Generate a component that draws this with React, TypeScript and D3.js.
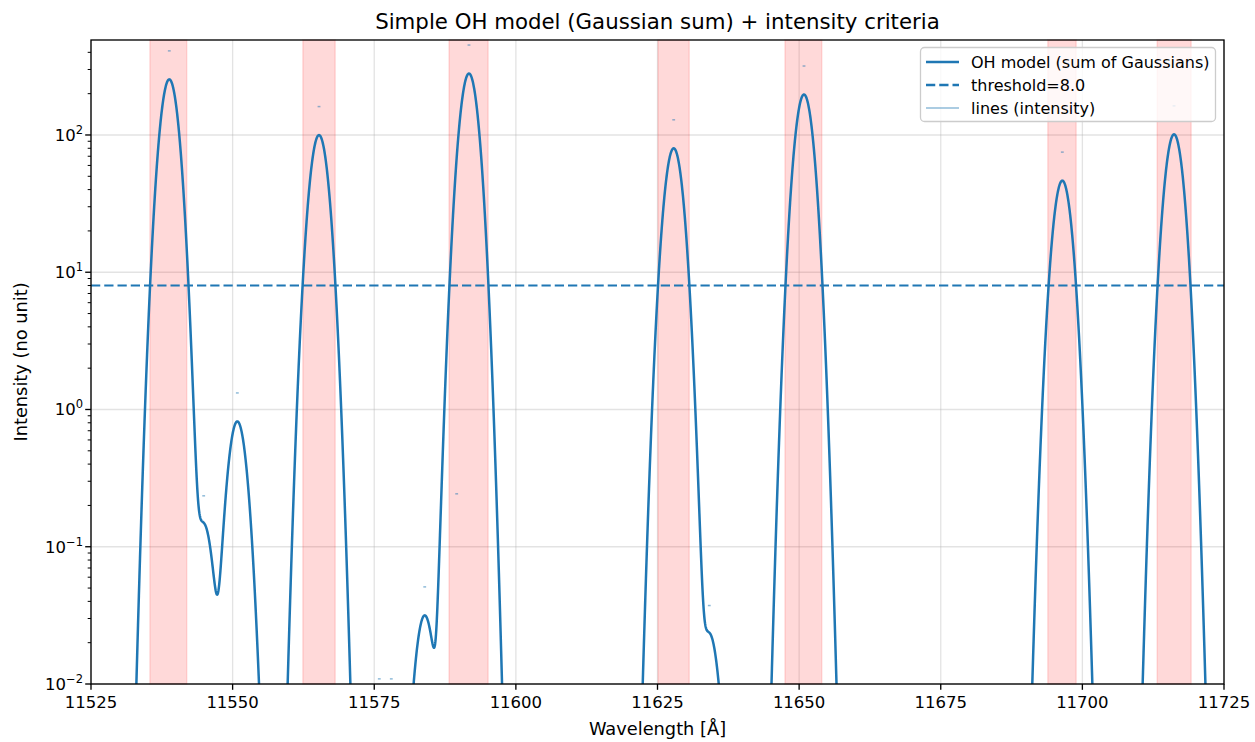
import React from 'react'
import { scaleLinear, scaleLog, line, range } from 'd3'

// emission lines: wavelength [Å] and intensity
const lineWavelengths = [
  11538.82, 11544.89, 11550.83, 11565.25, 11575.89, 11578.01, 11583.91, 11589.55, 11591.72, 11627.86, 11634.14,
  11650.86, 11696.46, 11716.18
]
const lineIntensities = [410, 0.235, 1.32, 161, 0.0109, 0.0109, 0.051, 0.243, 452, 129, 0.0373, 318, 75, 163]

// model parameters (peak height relative to line intensity, gaussian sigma in Å)
const MODEL_SCALE = 0.62
const MODEL_SIGMA = 1.29
const THRESHOLD = 8.0

// regions where the model is above threshold
const bandStarts = [11535.4, 11562.4, 11588.2, 11625.1, 11647.5, 11693.9, 11713.2]
const bandEnds = [11541.9, 11568.1, 11595.1, 11630.6, 11654.0, 11698.9, 11719.2]

const xTicks = [11525, 11550, 11575, 11600, 11625, 11650, 11675, 11700, 11725]
const yExponents = [-2, -1, 0, 1, 2]

const W = 1255
const H = 742
const M = { top: 40, right: 31, bottom: 58, left: 91 }
const BLUE = '#1f77b4'
const FONT = '"DejaVu Sans", sans-serif'

export default function App() {
  const x = scaleLinear().domain([11525, 11725]).range([M.left, W - M.right])
  const y = scaleLog().domain([0.01, 492]).range([H - M.bottom, M.top])

  const model = (wl: number) => {
    let s = 0
    lineWavelengths.forEach((c, i) => {
      const d = wl - c
      s += MODEL_SCALE * lineIntensities[i] * Math.exp(-(d * d) / (2 * MODEL_SIGMA * MODEL_SIGMA))
    })
    return Math.max(s, 1e-8)
  }
  const grid = range(11525, 11725.001, 0.05)
  const path = line<number>()
    .x((d) => x(d))
    .y((d) => y(model(d)))(grid)

  const minorTicks: number[] = []
  yExponents.forEach((e) => {
    for (let k = 2; k <= 9; k++) {
      const v = k * Math.pow(10, e)
      if (v <= 492) minorTicks.push(v)
    }
  })

  const left = M.left
  const right = W - M.right
  const top = M.top
  const bottom = H - M.bottom

  const legendItems = [
    { label: 'OH model (sum of Gaussians)', dash: undefined, opacity: 1, width: 2.5 },
    { label: 'threshold=8.0', dash: '9.25 4', opacity: 1, width: 2.5 },
    { label: 'lines (intensity)', dash: undefined, opacity: 0.5, width: 1.7 }
  ]

  return (
    <svg width={W} height={H} style={{ position: 'absolute', left: 0, top: 0, background: 'white' }} fontFamily={FONT}>
      <defs>
        <clipPath id="plot">
          <rect x={left} y={top} width={right - left} height={bottom - top} />
        </clipPath>
      </defs>

      {/* grid */}
      <g stroke="#b0b0b0" strokeOpacity={0.35} strokeWidth={1.3}>
        {xTicks.map((t) => (
          <line key={t} x1={x(t)} x2={x(t)} y1={top} y2={bottom} />
        ))}
        {yExponents.map((e) => (
          <line key={e} x1={left} x2={right} y1={y(Math.pow(10, e))} y2={y(Math.pow(10, e))} />
        ))}
      </g>

      {/* bands above threshold */}
      <g fill="red" fillOpacity={0.15} stroke="red" strokeOpacity={0.12} strokeWidth={1.5}>
        {bandStarts.map((s, i) => (
          <rect key={i} x={x(s)} y={top} width={x(bandEnds[i]) - x(s)} height={bottom - top} />
        ))}
      </g>

      <g clipPath="url(#plot)">
        <path d={path || ''} fill="none" stroke={BLUE} strokeWidth={2.5} strokeLinejoin="round" />
        <line x1={left} x2={right} y1={y(THRESHOLD)} y2={y(THRESHOLD)} stroke={BLUE} strokeWidth={2} strokeDasharray="9.25 4" />
        <g stroke={BLUE} strokeOpacity={0.5} strokeWidth={1.5}>
          {lineWavelengths.map((c, i) => (
            <line key={i} x1={x(c - 0.25)} x2={x(c + 0.25)} y1={y(lineIntensities[i])} y2={y(lineIntensities[i])} />
          ))}
        </g>
      </g>

      {/* axes frame */}
      <rect x={left} y={top} width={right - left} height={bottom - top} fill="none" stroke="black" strokeWidth={1.33} />

      {/* x ticks */}
      <g fontSize={16.5} textAnchor="middle" fill="black">
        {xTicks.map((t) => (
          <g key={t}>
            <line x1={x(t)} x2={x(t)} y1={bottom} y2={bottom + 5.8} stroke="black" strokeWidth={1.33} />
            <text x={x(t)} y={bottom + 24}>
              {t}
            </text>
          </g>
        ))}
      </g>

      {/* y ticks */}
      <g stroke="black" strokeWidth={1}>
        {minorTicks.map((v) => (
          <line key={v} x1={left - 3.3} x2={left} y1={y(v)} y2={y(v)} />
        ))}
      </g>
      <g fontSize={16.5} textAnchor="end" fill="black">
        {yExponents.map((e) => (
          <g key={e}>
            <line x1={left - 5.8} x2={left} y1={y(Math.pow(10, e))} y2={y(Math.pow(10, e))} stroke="black" strokeWidth={1.33} />
            <text x={left - 8} y={y(Math.pow(10, e)) + 6}>
              10
              <tspan fontSize={11.5} dy={-7}>
                {e < 0 ? '\u2212' + Math.abs(e) : e}
              </tspan>
            </text>
          </g>
        ))}
      </g>

      {/* labels */}
      <text x={(left + right) / 2} y={29} textAnchor="middle" fontSize={21.3}>
        Simple OH model (Gaussian sum) + intensity criteria
      </text>
      <text x={(left + right) / 2} y={735} textAnchor="middle" fontSize={17.8}>
        Wavelength [Å]
      </text>
      <text transform={`translate(27, ${(top + bottom) / 2}) rotate(-90)`} textAnchor="middle" fontSize={17.8}>
        Intensity (no unit)
      </text>

      {/* legend */}
      <g>
        <rect x={920.5} y={47.5} width={295} height={74} rx={4} fill="white" fillOpacity={0.8} stroke="#cccccc" strokeWidth={1.3} />
        {legendItems.map((it, i) => {
          const cy = 62 + i * 23
          return (
            <g key={it.label}>
              <line x1={926} x2={959} y1={cy} y2={cy} stroke={BLUE} strokeOpacity={it.opacity} strokeWidth={it.width} strokeDasharray={it.dash} />
              <text x={971} y={cy + 6} fontSize={16}>
                {it.label}
              </text>
            </g>
          )
        })}
      </g>
    </svg>
  )
}
